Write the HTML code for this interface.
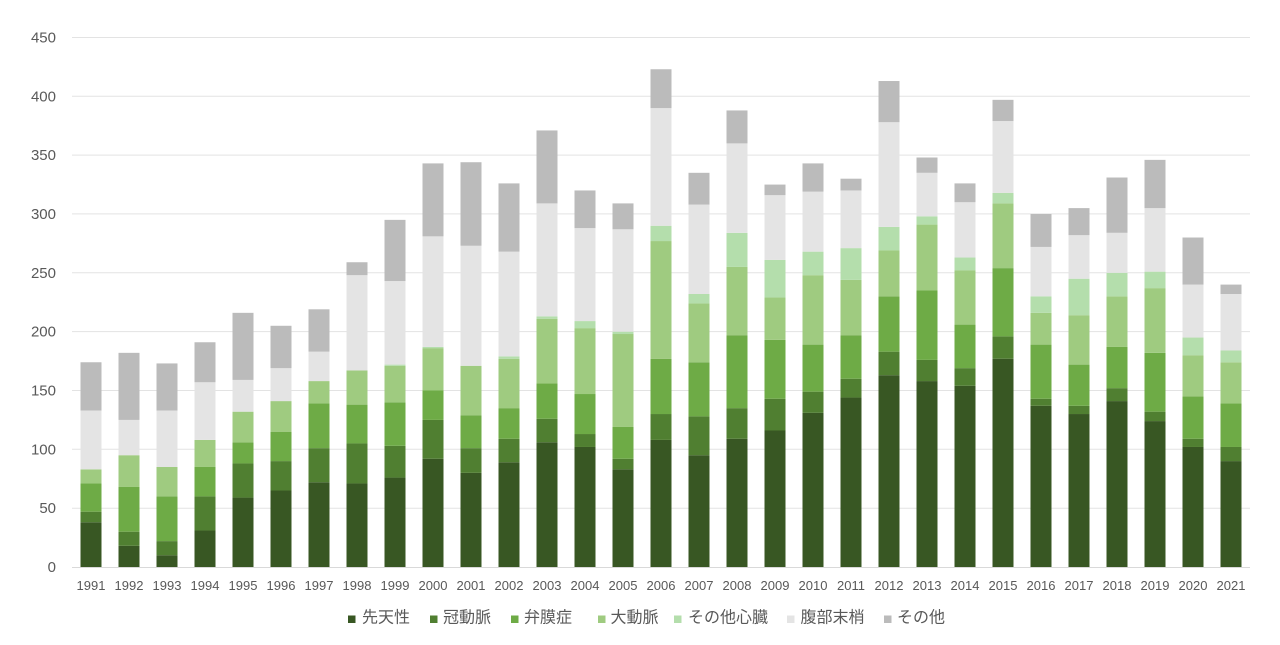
<!DOCTYPE html>
<html>
<head>
<meta charset="utf-8">
<style>
html,body{margin:0;padding:0;background:#fff;}
svg{display:block;}
.a{fill:#385723}.b{fill:#507F31}.c{fill:#6EAB46}.d{fill:#9FCB80}.e{fill:#B4DEAC}.f{fill:#E4E4E4}.g{fill:#BBBBBB}
text{font-family:"Liberation Sans","Noto Sans CJK JP",sans-serif;fill:#595959;}
.yl{font-size:15px;text-anchor:end;}
.xl{font-size:13px;text-anchor:middle;}
.lg{font-size:16px;}
</style>
</head>
<body>
<svg width="1280" height="645" viewBox="0 0 1280 645" xmlns="http://www.w3.org/2000/svg">
<rect width="1280" height="645" fill="#fff"/>
<g stroke="#E3E3E3" stroke-width="1">
<line x1="72" x2="1250" y1="37.5" y2="37.5"/>
<line x1="72" x2="1250" y1="96.3" y2="96.3"/>
<line x1="72" x2="1250" y1="155.1" y2="155.1"/>
<line x1="72" x2="1250" y1="213.9" y2="213.9"/>
<line x1="72" x2="1250" y1="272.8" y2="272.8"/>
<line x1="72" x2="1250" y1="331.6" y2="331.6"/>
<line x1="72" x2="1250" y1="390.5" y2="390.5"/>
<line x1="72" x2="1250" y1="449.3" y2="449.3"/>
<line x1="72" x2="1250" y1="508.2" y2="508.2"/>
</g>
<g class="yl">
<text x="56" y="42.5">450</text>
<text x="56" y="101.3">400</text>
<text x="56" y="160.1">350</text>
<text x="56" y="218.9">300</text>
<text x="56" y="277.8">250</text>
<text x="56" y="336.6">200</text>
<text x="56" y="395.5">150</text>
<text x="56" y="454.3">100</text>
<text x="56" y="513.2">50</text>
<text x="56" y="572">0</text>
</g>
<g transform="translate(0,567) scale(1,-1.1767)">
<g transform="translate(80.5,0)"><rect class="a" x="0" width="21" y="0" height="38"/><rect class="b" x="0" width="21" y="38" height="9"/><rect class="c" x="0" width="21" y="47" height="24"/><rect class="d" x="0" width="21" y="71" height="12"/><rect class="f" x="0" width="21" y="83" height="50"/><rect class="g" x="0" width="21" y="133" height="41"/></g>
<g transform="translate(118.5,0)"><rect class="a" x="0" width="21" y="0" height="18"/><rect class="b" x="0" width="21" y="18" height="12"/><rect class="c" x="0" width="21" y="30" height="38"/><rect class="d" x="0" width="21" y="68" height="27"/><rect class="f" x="0" width="21" y="95" height="30"/><rect class="g" x="0" width="21" y="125" height="57"/></g>
<g transform="translate(156.5,0)"><rect class="a" x="0" width="21" y="0" height="10"/><rect class="b" x="0" width="21" y="10" height="12"/><rect class="c" x="0" width="21" y="22" height="38"/><rect class="d" x="0" width="21" y="60" height="25"/><rect class="f" x="0" width="21" y="85" height="48"/><rect class="g" x="0" width="21" y="133" height="40"/></g>
<g transform="translate(194.5,0)"><rect class="a" x="0" width="21" y="0" height="31"/><rect class="b" x="0" width="21" y="31" height="29"/><rect class="c" x="0" width="21" y="60" height="25"/><rect class="d" x="0" width="21" y="85" height="23"/><rect class="f" x="0" width="21" y="108" height="49"/><rect class="g" x="0" width="21" y="157" height="34"/></g>
<g transform="translate(232.5,0)"><rect class="a" x="0" width="21" y="0" height="59"/><rect class="b" x="0" width="21" y="59" height="29"/><rect class="c" x="0" width="21" y="88" height="18"/><rect class="d" x="0" width="21" y="106" height="26"/><rect class="f" x="0" width="21" y="132" height="27"/><rect class="g" x="0" width="21" y="159" height="57"/></g>
<g transform="translate(270.5,0)"><rect class="a" x="0" width="21" y="0" height="65"/><rect class="b" x="0" width="21" y="65" height="25"/><rect class="c" x="0" width="21" y="90" height="25"/><rect class="d" x="0" width="21" y="115" height="26"/><rect class="f" x="0" width="21" y="141" height="28"/><rect class="g" x="0" width="21" y="169" height="36"/></g>
<g transform="translate(308.5,0)"><rect class="a" x="0" width="21" y="0" height="72"/><rect class="b" x="0" width="21" y="72" height="29"/><rect class="c" x="0" width="21" y="101" height="38"/><rect class="d" x="0" width="21" y="139" height="19"/><rect class="f" x="0" width="21" y="158" height="25"/><rect class="g" x="0" width="21" y="183" height="36"/></g>
<g transform="translate(346.5,0)"><rect class="a" x="0" width="21" y="0" height="71"/><rect class="b" x="0" width="21" y="71" height="34"/><rect class="c" x="0" width="21" y="105" height="33"/><rect class="d" x="0" width="21" y="138" height="29"/><rect class="f" x="0" width="21" y="167" height="81"/><rect class="g" x="0" width="21" y="248" height="11"/></g>
<g transform="translate(384.5,0)"><rect class="a" x="0" width="21" y="0" height="76"/><rect class="b" x="0" width="21" y="76" height="27"/><rect class="c" x="0" width="21" y="103" height="37"/><rect class="d" x="0" width="21" y="140" height="31"/><rect class="e" x="0" width="21" y="171" height="1"/><rect class="f" x="0" width="21" y="172" height="71"/><rect class="g" x="0" width="21" y="243" height="52"/></g>
<g transform="translate(422.5,0)"><rect class="a" x="0" width="21" y="0" height="92"/><rect class="b" x="0" width="21" y="92" height="33"/><rect class="c" x="0" width="21" y="125" height="25"/><rect class="d" x="0" width="21" y="150" height="36"/><rect class="e" x="0" width="21" y="186" height="1"/><rect class="f" x="0" width="21" y="187" height="94"/><rect class="g" x="0" width="21" y="281" height="62"/></g>
<g transform="translate(460.5,0)"><rect class="a" x="0" width="21" y="0" height="80"/><rect class="b" x="0" width="21" y="80" height="21"/><rect class="c" x="0" width="21" y="101" height="28"/><rect class="d" x="0" width="21" y="129" height="42"/><rect class="f" x="0" width="21" y="171" height="102"/><rect class="g" x="0" width="21" y="273" height="71"/></g>
<g transform="translate(498.5,0)"><rect class="a" x="0" width="21" y="0" height="89"/><rect class="b" x="0" width="21" y="89" height="20"/><rect class="c" x="0" width="21" y="109" height="26"/><rect class="d" x="0" width="21" y="135" height="42"/><rect class="e" x="0" width="21" y="177" height="2"/><rect class="f" x="0" width="21" y="179" height="89"/><rect class="g" x="0" width="21" y="268" height="58"/></g>
<g transform="translate(536.5,0)"><rect class="a" x="0" width="21" y="0" height="106"/><rect class="b" x="0" width="21" y="106" height="20"/><rect class="c" x="0" width="21" y="126" height="30"/><rect class="d" x="0" width="21" y="156" height="55"/><rect class="e" x="0" width="21" y="211" height="2"/><rect class="f" x="0" width="21" y="213" height="96"/><rect class="g" x="0" width="21" y="309" height="62"/></g>
<g transform="translate(574.5,0)"><rect class="a" x="0" width="21" y="0" height="102"/><rect class="b" x="0" width="21" y="102" height="11"/><rect class="c" x="0" width="21" y="113" height="34"/><rect class="d" x="0" width="21" y="147" height="56"/><rect class="e" x="0" width="21" y="203" height="6"/><rect class="f" x="0" width="21" y="209" height="79"/><rect class="g" x="0" width="21" y="288" height="32"/></g>
<g transform="translate(612.5,0)"><rect class="a" x="0" width="21" y="0" height="83"/><rect class="b" x="0" width="21" y="83" height="9"/><rect class="c" x="0" width="21" y="92" height="27"/><rect class="d" x="0" width="21" y="119" height="79"/><rect class="e" x="0" width="21" y="198" height="2"/><rect class="f" x="0" width="21" y="200" height="87"/><rect class="g" x="0" width="21" y="287" height="22"/></g>
<g transform="translate(650.5,0)"><rect class="a" x="0" width="21" y="0" height="108"/><rect class="b" x="0" width="21" y="108" height="22"/><rect class="c" x="0" width="21" y="130" height="47"/><rect class="d" x="0" width="21" y="177" height="100"/><rect class="e" x="0" width="21" y="277" height="13"/><rect class="f" x="0" width="21" y="290" height="100"/><rect class="g" x="0" width="21" y="390" height="33"/></g>
<g transform="translate(688.5,0)"><rect class="a" x="0" width="21" y="0" height="95"/><rect class="b" x="0" width="21" y="95" height="33"/><rect class="c" x="0" width="21" y="128" height="46"/><rect class="d" x="0" width="21" y="174" height="50"/><rect class="e" x="0" width="21" y="224" height="8"/><rect class="f" x="0" width="21" y="232" height="76"/><rect class="g" x="0" width="21" y="308" height="27"/></g>
<g transform="translate(726.5,0)"><rect class="a" x="0" width="21" y="0" height="109"/><rect class="b" x="0" width="21" y="109" height="26"/><rect class="c" x="0" width="21" y="135" height="62"/><rect class="d" x="0" width="21" y="197" height="58"/><rect class="e" x="0" width="21" y="255" height="29"/><rect class="f" x="0" width="21" y="284" height="76"/><rect class="g" x="0" width="21" y="360" height="28"/></g>
<g transform="translate(764.5,0)"><rect class="a" x="0" width="21" y="0" height="116"/><rect class="b" x="0" width="21" y="116" height="27"/><rect class="c" x="0" width="21" y="143" height="50"/><rect class="d" x="0" width="21" y="193" height="36"/><rect class="e" x="0" width="21" y="229" height="32"/><rect class="f" x="0" width="21" y="261" height="55"/><rect class="g" x="0" width="21" y="316" height="9"/></g>
<g transform="translate(802.5,0)"><rect class="a" x="0" width="21" y="0" height="131"/><rect class="b" x="0" width="21" y="131" height="18"/><rect class="c" x="0" width="21" y="149" height="40"/><rect class="d" x="0" width="21" y="189" height="59"/><rect class="e" x="0" width="21" y="248" height="20"/><rect class="f" x="0" width="21" y="268" height="51"/><rect class="g" x="0" width="21" y="319" height="24"/></g>
<g transform="translate(840.5,0)"><rect class="a" x="0" width="21" y="0" height="144"/><rect class="b" x="0" width="21" y="144" height="16"/><rect class="c" x="0" width="21" y="160" height="37"/><rect class="d" x="0" width="21" y="197" height="47"/><rect class="e" x="0" width="21" y="244" height="27"/><rect class="f" x="0" width="21" y="271" height="49"/><rect class="g" x="0" width="21" y="320" height="10"/></g>
<g transform="translate(878.5,0)"><rect class="a" x="0" width="21" y="0" height="163"/><rect class="b" x="0" width="21" y="163" height="20"/><rect class="c" x="0" width="21" y="183" height="47"/><rect class="d" x="0" width="21" y="230" height="39"/><rect class="e" x="0" width="21" y="269" height="20"/><rect class="f" x="0" width="21" y="289" height="89"/><rect class="g" x="0" width="21" y="378" height="35"/></g>
<g transform="translate(916.5,0)"><rect class="a" x="0" width="21" y="0" height="158"/><rect class="b" x="0" width="21" y="158" height="18"/><rect class="c" x="0" width="21" y="176" height="59"/><rect class="d" x="0" width="21" y="235" height="56"/><rect class="e" x="0" width="21" y="291" height="7"/><rect class="f" x="0" width="21" y="298" height="37"/><rect class="g" x="0" width="21" y="335" height="13"/></g>
<g transform="translate(954.5,0)"><rect class="a" x="0" width="21" y="0" height="154"/><rect class="b" x="0" width="21" y="154" height="15"/><rect class="c" x="0" width="21" y="169" height="37"/><rect class="d" x="0" width="21" y="206" height="46"/><rect class="e" x="0" width="21" y="252" height="11"/><rect class="f" x="0" width="21" y="263" height="47"/><rect class="g" x="0" width="21" y="310" height="16"/></g>
<g transform="translate(992.5,0)"><rect class="a" x="0" width="21" y="0" height="177"/><rect class="b" x="0" width="21" y="177" height="19"/><rect class="c" x="0" width="21" y="196" height="58"/><rect class="d" x="0" width="21" y="254" height="55"/><rect class="e" x="0" width="21" y="309" height="9"/><rect class="f" x="0" width="21" y="318" height="61"/><rect class="g" x="0" width="21" y="379" height="18"/></g>
<g transform="translate(1030.5,0)"><rect class="a" x="0" width="21" y="0" height="137"/><rect class="b" x="0" width="21" y="137" height="6"/><rect class="c" x="0" width="21" y="143" height="46"/><rect class="d" x="0" width="21" y="189" height="27"/><rect class="e" x="0" width="21" y="216" height="14"/><rect class="f" x="0" width="21" y="230" height="42"/><rect class="g" x="0" width="21" y="272" height="28"/></g>
<g transform="translate(1068.5,0)"><rect class="a" x="0" width="21" y="0" height="130"/><rect class="b" x="0" width="21" y="130" height="7"/><rect class="c" x="0" width="21" y="137" height="35"/><rect class="d" x="0" width="21" y="172" height="42"/><rect class="e" x="0" width="21" y="214" height="31"/><rect class="f" x="0" width="21" y="245" height="37"/><rect class="g" x="0" width="21" y="282" height="23"/></g>
<g transform="translate(1106.5,0)"><rect class="a" x="0" width="21" y="0" height="141"/><rect class="b" x="0" width="21" y="141" height="11"/><rect class="c" x="0" width="21" y="152" height="35"/><rect class="d" x="0" width="21" y="187" height="43"/><rect class="e" x="0" width="21" y="230" height="20"/><rect class="f" x="0" width="21" y="250" height="34"/><rect class="g" x="0" width="21" y="284" height="47"/></g>
<g transform="translate(1144.5,0)"><rect class="a" x="0" width="21" y="0" height="124"/><rect class="b" x="0" width="21" y="124" height="8"/><rect class="c" x="0" width="21" y="132" height="50"/><rect class="d" x="0" width="21" y="182" height="55"/><rect class="e" x="0" width="21" y="237" height="14"/><rect class="f" x="0" width="21" y="251" height="54"/><rect class="g" x="0" width="21" y="305" height="41"/></g>
<g transform="translate(1182.5,0)"><rect class="a" x="0" width="21" y="0" height="102"/><rect class="b" x="0" width="21" y="102" height="7"/><rect class="c" x="0" width="21" y="109" height="36"/><rect class="d" x="0" width="21" y="145" height="35"/><rect class="e" x="0" width="21" y="180" height="15"/><rect class="f" x="0" width="21" y="195" height="45"/><rect class="g" x="0" width="21" y="240" height="40"/></g>
<g transform="translate(1220.5,0)"><rect class="a" x="0" width="21" y="0" height="90"/><rect class="b" x="0" width="21" y="90" height="12"/><rect class="c" x="0" width="21" y="102" height="37"/><rect class="d" x="0" width="21" y="139" height="35"/><rect class="e" x="0" width="21" y="174" height="10"/><rect class="f" x="0" width="21" y="184" height="48"/><rect class="g" x="0" width="21" y="232" height="8"/></g>
</g>
<line x1="72" x2="1250" y1="567.5" y2="567.5" stroke="#D9D9D9" stroke-width="1"/>
<g class="xl">
<text x="91" y="590">1991</text><text x="129" y="590">1992</text><text x="167" y="590">1993</text><text x="205" y="590">1994</text><text x="243" y="590">1995</text><text x="281" y="590">1996</text><text x="319" y="590">1997</text><text x="357" y="590">1998</text><text x="395" y="590">1999</text><text x="433" y="590">2000</text><text x="471" y="590">2001</text><text x="509" y="590">2002</text><text x="547" y="590">2003</text><text x="585" y="590">2004</text><text x="623" y="590">2005</text><text x="661" y="590">2006</text><text x="699" y="590">2007</text><text x="737" y="590">2008</text><text x="775" y="590">2009</text><text x="813" y="590">2010</text><text x="851" y="590">2011</text><text x="889" y="590">2012</text><text x="927" y="590">2013</text><text x="965" y="590">2014</text><text x="1003" y="590">2015</text><text x="1041" y="590">2016</text><text x="1079" y="590">2017</text><text x="1117" y="590">2018</text><text x="1155" y="590">2019</text><text x="1193" y="590">2020</text><text x="1231" y="590">2021</text>
</g>
<g class="lg">
<rect class="a" x="348" y="615.5" width="7.5" height="7.5"/><text x="362" y="622.5">先天性</text>
<rect class="b" x="430" y="615.5" width="7.5" height="7.5"/><text x="443" y="622.5">冠動脈</text>
<rect class="c" x="511" y="615.5" width="7.5" height="7.5"/><text x="524" y="622.5">弁膜症</text>
<rect class="d" x="598" y="615.5" width="7.5" height="7.5"/><text x="610.5" y="622.5">大動脈</text>
<rect class="e" x="674" y="615.5" width="7.5" height="7.5"/><text x="688" y="622.5">その他心臓</text>
<rect class="f" x="787" y="615.5" width="7.5" height="7.5"/><text x="800.5" y="622.5">腹部末梢</text>
<rect class="g" x="884" y="615.5" width="7.5" height="7.5"/><text x="897" y="622.5">その他</text>
</g>
</svg>
</body>
</html>
